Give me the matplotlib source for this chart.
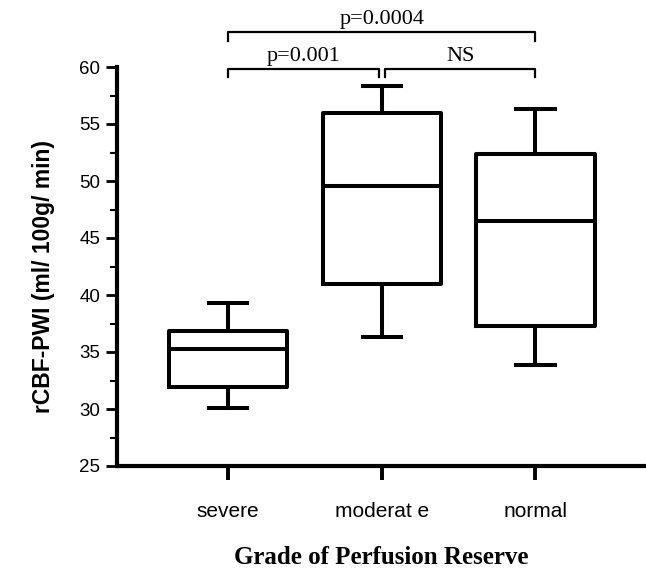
import matplotlib
matplotlib.use("Agg")
import matplotlib.pyplot as plt
from matplotlib.ticker import MultipleLocator

# five-number summaries
groups = ["severe", "moderat e", "normal"]
whisk_lo = [30.1, 36.3, 33.9]
q1 = [31.95, 41.0, 37.3]
median = [35.25, 49.6, 46.45]
q3 = [36.85, 55.95, 52.35]
whisk_hi = [39.3, 58.35, 56.35]

# comparisons: (group a, group b, label)
comparisons = [(1, 2, "p=0.001"), (2, 3, "NS"), (1, 3, "p=0.0004")]

plt.rcParams["font.family"] = ["Liberation Sans", "DejaVu Sans"]

fig = plt.figure(figsize=(6.46, 5.68), dpi=100)
ax = fig.add_axes([117 / 646, 102 / 568, 529 / 646, 399 / 568])

stats = []
for i, g in enumerate(groups):
    stats.append(dict(label=g, whislo=whisk_lo[i], q1=q1[i], med=median[i],
                      q3=q3[i], whishi=whisk_hi[i], fliers=[]))

lw = 2.9
ax.bxp(stats, positions=[1, 2, 3], widths=0.77, showfliers=False,
       boxprops=dict(color="black", linewidth=lw),
       medianprops=dict(color="black", linewidth=lw),
       whiskerprops=dict(color="black", linewidth=lw),
       capprops=dict(color="black", linewidth=lw),
       capwidths=0.25)

ax.set_xlim(0.277, 3.72)
ax.set_ylim(25, 60)
ax.yaxis.set_major_locator(MultipleLocator(5))
ax.yaxis.set_minor_locator(MultipleLocator(2.5))
ax.spines["top"].set_visible(False)
ax.spines["right"].set_visible(False)
ax.spines["left"].set_linewidth(3)
ax.spines["bottom"].set_linewidth(3)
ax.tick_params(axis="y", which="major", length=8, width=2, labelsize=13.5, pad=4)
ax.tick_params(axis="y", which="minor", length=5, width=1.5)
ax.tick_params(axis="x", which="major", length=10, width=2.8, labelsize=15, pad=16)

ax.set_ylabel("rCBF-PWI (ml/ 100g/ min)", fontsize=16.5, fontweight="bold")
ax.yaxis.set_label_coords(-0.118, 0.475)
ax.set_xlabel("Grade of Perfusion Reserve", fontsize=18, fontweight="bold",
              family="Liberation Serif", labelpad=18)

# significance brackets above the boxes
levels = {0: (59.82, 59.1), 1: (63.05, 62.3)}
for a, b, text in comparisons:
    lvl = 1 if (b - a) == 2 else 0
    top, drop = levels[lvl]
    xa, xb = a, b
    if lvl == 0:
        xa = a + 0.02 if a == 2 else a
        xb = b - 0.02 if b == 2 else b
    ax.plot([xa, xa, xb, xb], [drop, top, top, drop], color="black",
            linewidth=1.6, clip_on=False)
    ax.text((xa + xb) / 2, top + 0.3, text, ha="center", va="bottom",
            fontsize=16, family="Liberation Serif")

fig.savefig("out.png", dpi=100, facecolor="w")
